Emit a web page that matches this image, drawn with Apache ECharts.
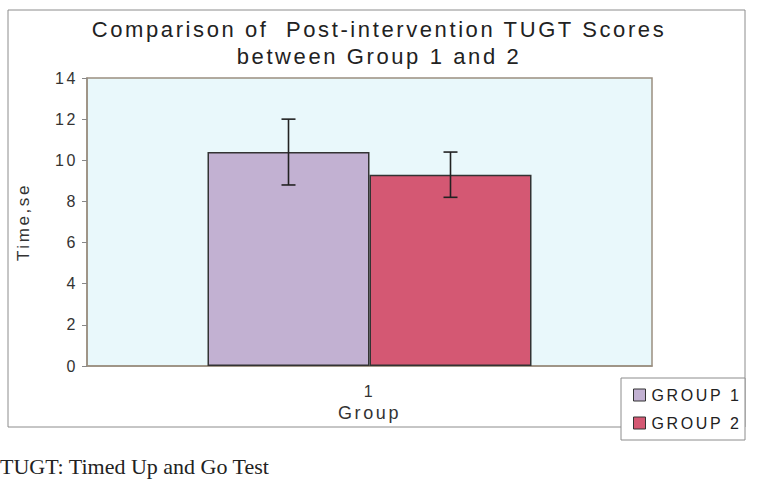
<!DOCTYPE html>
<html>
<head>
<meta charset="utf-8">
<script src="https://cdn.jsdelivr.net/npm/echarts@6/dist/echarts.min.js"></script>
<style>
  html, body { margin: 0; padding: 0; background: #fff; }
  #wrap { position: relative; width: 758px; height: 494px; }
  #main { width: 758px; height: 494px; }
  /* the old Excel chart spaces its letters out */
  #main text { letter-spacing: 2.6px; }
  #note {
    position: absolute; left: 0; top: 454px;
    font: 22px "Liberation Serif", "Times New Roman", serif; color: #222;
  }
</style>
</head>
<body>
<div id="wrap">
  <div id="main"></div>
  <div id="note">TUGT: Timed Up and Go Test</div>
</div>
<script>
var categories = ['1'];
var group1 = [10.4];
var group2 = [9.3];
var err1 = [1.6];
var err2 = [1.1];
var yTicks = [0, 2, 4, 6, 8, 10, 12, 14];

var BAR_W = 162;
var font = 'Liberation Sans, Arial, sans-serif';

// error bar data: [categoryIndex, low, high]
function errData(vals, errs) {
    var out = [];
    for (var i = 0; i < vals.length; i++) {
        out.push([i, vals[i] - errs[i], vals[i] + errs[i]]);
    }
    return out;
}

function errRender(side) {
    return function (params, api) {
        var lo = api.coord([api.value(0), api.value(1)]);
        var hi = api.coord([api.value(0), api.value(2)]);
        var x = lo[0] + side * BAR_W / 2;
        var cap = 7;
        var st = { stroke: '#222', lineWidth: 1.6 };
        return {
            type: 'group',
            children: [
                { type: 'line', shape: { x1: x, y1: lo[1], x2: x, y2: hi[1] }, style: st },
                { type: 'line', shape: { x1: x - cap, y1: hi[1], x2: x + cap, y2: hi[1] }, style: st },
                { type: 'line', shape: { x1: x - cap, y1: lo[1], x2: x + cap, y2: lo[1] }, style: st }
            ]
        };
    };
}

var myChart = echarts.init(document.getElementById('main'), null, { renderer: 'svg' });
var option = {
    animation: false,
    textStyle: { fontFamily: font },
    title: {
        text: 'Comparison of  Post-intervention TUGT Scores\nbetween Group 1 and 2',
        left: 'center',
        top: 11,
        textStyle: { fontSize: 22, fontWeight: 'normal', color: '#222', lineHeight: 27, fontFamily: font }
    },
    graphic: [
        {
            type: 'rect',
            shape: { x: 8, y: 10, width: 737, height: 417 },
            style: { fill: 'none', stroke: '#8c8c8c', lineWidth: 1 },
            z: -1
        },
        {
            type: 'rect',
            shape: { x: 621, y: 378, width: 124, height: 62 },
            style: { fill: '#fff', stroke: '#8c8c8c', lineWidth: 1 },
            z: 5
        }
    ],
    legend: {
        data: ['GROUP 1', 'GROUP 2'],
        orient: 'vertical',
        left: 628,
        top: 382,
        icon: 'rect',
        itemWidth: 12,
        itemHeight: 12,
        itemGap: 12,
        z: 10,
        itemStyle: { borderColor: '#333', borderWidth: 1 },
        textStyle: { fontSize: 16, color: '#222', fontFamily: font, padding: [0, 0, 0, 1] }
    },
    grid: {
        left: 87,
        right: 106,
        top: 78,
        bottom: 128,
        outerBoundsMode: 'none',
        show: true,
        backgroundColor: '#e9f8fb',
        borderColor: '#9a8f80',
        borderWidth: 1.5
    },
    xAxis: {
        type: 'category',
        data: categories,
        name: 'Group',
        nameLocation: 'middle',
        nameGap: 36,
        nameTextStyle: { fontSize: 18, color: '#333' },
        axisLine: { lineStyle: { color: '#9a8f80', width: 1.5 } },
        axisTick: { show: false },
        axisLabel: { fontSize: 16, color: '#333', margin: 17 }
    },
    yAxis: {
        type: 'value',
        min: yTicks[0],
        max: yTicks[yTicks.length - 1],
        interval: 2,
        name: 'Time,se',
        nameLocation: 'middle',
        nameGap: 55,
        nameTextStyle: { fontSize: 17, color: '#333' },
        axisLine: { show: true, lineStyle: { color: '#9a8f80', width: 1.5 } },
        axisTick: { show: true, length: 5, lineStyle: { color: '#888' } },
        splitLine: { show: false },
        axisLabel: { fontSize: 16, color: '#333', margin: 9 }
    },
    series: [
        {
            name: 'GROUP 1',
            type: 'bar',
            data: group1,
            barWidth: BAR_W,
            barGap: '0%',
            itemStyle: { color: '#c2b1d2', borderColor: '#333', borderWidth: 1.5 }
        },
        {
            name: 'GROUP 2',
            type: 'bar',
            data: group2,
            barWidth: BAR_W,
            itemStyle: { color: '#d45873', borderColor: '#333', borderWidth: 1.5 }
        },
        {
            type: 'custom',
            renderItem: errRender(-1),
            data: errData(group1, err1),
            encode: { x: 0, y: [1, 2] },
            z: 10
        },
        {
            type: 'custom',
            renderItem: errRender(1),
            data: errData(group2, err2),
            encode: { x: 0, y: [1, 2] },
            z: 10
        }
    ]
};
myChart.setOption(option);
</script>
</body>
</html>
